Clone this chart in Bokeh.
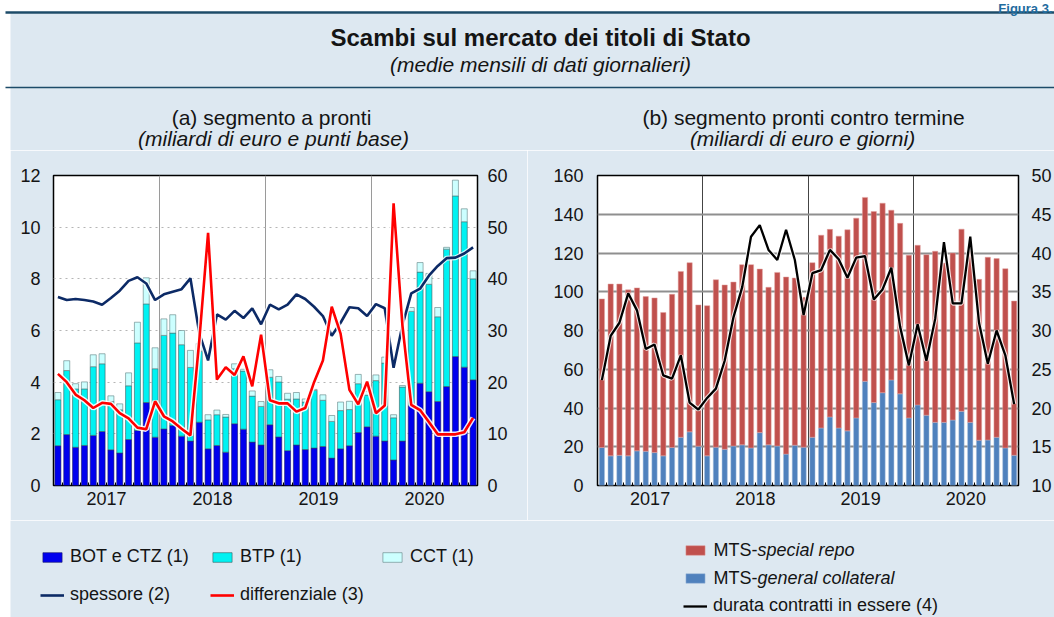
from bokeh.plotting import figure
from bokeh.models import Range1d, LinearAxis, FixedTicker, Legend, LegendItem, Spacer
from bokeh.layouts import column, row
from bokeh.embed import file_html
from bokeh.resources import INLINE
from bokeh.core.properties import value

# ---------------- data ----------------
years = ["2017", "2018", "2019", "2020"]

# panel (a): billions of euro (left axis)
bot_ctz = [1.54, 1.97, 1.48, 1.55, 1.94, 2.09, 1.38, 1.26, 1.78, 2.13, 3.21, 1.87,
           2.19, 2.32, 1.91, 1.72, 2.45, 1.42, 1.55, 1.29, 2.39, 2.18, 1.68, 1.57,
           2.35, 1.88, 1.35, 1.57, 1.39, 1.45, 1.51, 1.06, 1.42, 1.54, 2.05, 2.27,
           1.91, 1.72, 0.99, 1.72, 3.10, 3.96, 3.63, 3.25, 3.83, 4.99, 4.58, 4.09]
btp = [1.78, 2.48, 2.26, 2.19, 2.66, 2.62, 1.87, 1.67, 2.08, 3.39, 3.82, 2.65,
       3.62, 3.58, 3.54, 2.85, 2.75, 1.12, 1.19, 1.36, 2.13, 2.25, 1.78, 1.49,
       1.84, 2.13, 1.99, 1.78, 1.84, 2.23, 1.79, 1.42, 1.48, 1.40, 1.89, 1.23,
       2.15, 3.02, 1.63, 2.09, 3.64, 4.30, 4.16, 3.28, 5.32, 6.22, 5.63, 3.91]
cct = [0.28, 0.38, 0.20, 0.27, 0.46, 0.39, 0.22, 0.23, 0.50, 0.80, 1.01, 0.81,
       0.64, 0.71, 0.55, 0.66, 0.30, 0.20, 0.18, 0.10, 0.19, 0.07, 0.20, 0.19,
       0.29, 0.21, 0.23, 0.25, 0.12, 0.04, 0.21, 0.23, 0.33, 0.32, 0.36, 0.15,
       0.22, 0.23, 0.12, 0.06, 0.15, 0.37, 0.42, 0.36, 0.07, 0.61, 0.50, 0.31]
# right axis (0-60)
spessore = [36.5, 35.9, 36.1, 35.9, 35.6, 35.0, 36.3, 37.7, 39.6, 40.3, 39.1, 35.9,
            37.0, 37.5, 38.0, 40.1, 29.5, 24.2, 33.1, 32.1, 33.8, 32.4, 34.3, 31.2,
            35.0, 34.1, 35.0, 37.0, 36.1, 34.6, 32.8, 29.0, 31.5, 34.5, 34.3, 32.8,
            35.1, 34.3, 22.8, 31.0, 37.2, 38.1, 40.6, 42.5, 44.0, 44.1, 44.9, 46.1]
differenziale = [21.6, 20.0, 17.6, 16.5, 15.0, 16.0, 15.8, 14.0, 13.0, 11.2, 10.9, 16.3,
                 13.4, 12.4, 11.0, 9.7, 28.0, 48.9, 20.5, 22.9, 21.4, 25.0, 19.2, 29.2,
                 16.5, 15.9, 15.9, 14.3, 15.0, 20.0, 24.2, 34.6, 29.4, 18.5, 15.7, 20.1,
                 14.0, 15.5, 54.6, 31.0, 15.6, 14.6, 12.3, 9.9, 9.9, 9.9, 10.3, 13.1]

# panel (b): billions of euro (left), days (right)
general_collateral = [19.6, 15.3, 15.6, 15.3, 17.9, 17.7, 17.0, 15.3, 19.6, 24.9, 27.7, 20.3,
                      15.3, 19.8, 18.7, 20.4, 21.0, 19.4, 27.3, 21.0, 20.4, 16.2, 20.8, 19.8,
                      24.9, 29.7, 35.4, 29.7, 28.2, 34.9, 53.8, 42.8, 47.9, 54.5, 47.3, 34.9,
                      41.6, 36.3, 32.6, 32.6, 33.8, 38.3, 32.6, 23.4, 23.5, 24.9, 19.4, 15.6]
repo_total = [96.3, 104.0, 104.0, 101.0, 102.0, 97.5, 96.8, 89.3, 98.7, 110.5, 115.0, 93.2,
              92.8, 106.2, 103.5, 105.0, 114.0, 114.0, 111.7, 102.3, 110.0, 107.6, 107.1, 97.1,
              115.0, 129.2, 132.2, 128.7, 132.0, 138.0, 148.7, 141.4, 145.7, 142.1, 135.3, 118.9,
              124.0, 119.1, 120.9, 114.9, 120.0, 132.3, 121.0, 106.4, 117.8, 117.1, 111.9, 95.2]
durata = [23.6, 29.3, 31.0, 34.8, 32.6, 27.6, 28.2, 24.2, 23.8, 26.8, 20.7, 19.8,
          21.3, 22.5, 26.1, 31.7, 35.6, 42.1, 43.6, 40.4, 39.1, 43.0, 39.1, 32.0,
          37.4, 37.8, 40.4, 39.2, 36.8, 39.4, 39.6, 34.0, 35.3, 38.1, 30.5, 25.5,
          30.8, 26.1, 31.5, 41.4, 33.5, 33.5, 42.1, 31.0, 25.7, 30.0, 26.8, 20.5]

ticks_a_left = [0, 2, 4, 6, 8, 10, 12]
ticks_a_right = [0, 10, 20, 30, 40, 50, 60]
ticks_b_left = [0, 20, 40, 60, 80, 100, 120, 140, 160]
ticks_b_right = [10, 15, 20, 25, 30, 35, 40, 45, 50]

# ---------------- styling ----------------
BG = "#dde8f1"
RULE = "#1c4b69"
FONT = "Liberation Sans"
TXT = "#141414"
W, H = 1054, 617
n = len(bot_ctz)
xs = [i + 0.5 for i in range(n)]
year_ticks = [6 + 12 * k for k in range(len(years))]
year_bounds = [12 * k for k in range(1, len(years))]

bot_top = [a + b for a, b in zip(bot_ctz, btp)]
cct_top = [a + b for a, b in zip(bot_top, cct)]
NAN = [float("nan")]


def style_xaxis(p):
    ax = p.xaxis[0]
    ax.ticker = FixedTicker(ticks=year_ticks, minor_ticks=list(range(0, n + 1)))
    ax.major_label_overrides = {t: y for t, y in zip(year_ticks, years)}
    ax.major_tick_in = 0
    ax.major_tick_out = 0
    ax.minor_tick_in = 3
    ax.minor_tick_out = 0
    ax.minor_tick_line_color = "black"
    ax.axis_line_color = None
    ax.major_label_standoff = 6
    ax.major_label_text_font = FONT
    ax.major_label_text_font_size = "18px"
    ax.major_label_text_color = TXT


def style_yaxis(ax, ticks, standoff):
    ax.ticker = FixedTicker(ticks=ticks)
    ax.major_tick_in = 0
    ax.major_tick_out = 0
    ax.minor_tick_line_color = None
    ax.axis_line_color = None
    ax.major_label_standoff = standoff
    ax.major_label_text_font = FONT
    ax.major_label_text_font_size = "18px"
    ax.major_label_text_color = TXT


def canvas(width, height):
    c = figure(width=width, height=height, x_range=Range1d(0, width), y_range=Range1d(height, 0),
               output_backend="svg", toolbar_location=None, min_border=0,
               x_axis_location=None, y_axis_location=None, outline_line_color=None,
               background_fill_color="white", border_fill_color="white")
    c.grid.visible = False
    return c


def put_text(c, x, y, s, size, style="normal", color=TXT, align="center", baseline="middle"):
    c.text(x=[x], y=[y], text=[s], text_font=value(FONT), text_font_size=size,
           text_font_style=style, text_color=color, text_align=align, text_baseline=baseline)


# ---------------- header (titles) ----------------
HH = 150
hdr = canvas(W, HH)
hdr.quad(left=[10], right=[W], top=[13], bottom=[HH], fill_color=BG, line_color=None)
hdr.segment(x0=[5], x1=[W], y0=[12], y1=[12], line_color=RULE, line_width=2.5)
hdr.segment(x0=[5], x1=[W], y0=[87], y1=[87], line_color=RULE, line_width=1.5)
put_text(hdr, 1052, 8, "Figura 3.", "13px", "bold", "#1f6ca0", "right", "alphabetic")
put_text(hdr, 540, 37, "Scambi sul mercato dei titoli di Stato", "24px", "bold")
put_text(hdr, 540, 64, "(medie mensili di dati giornalieri)", "21px", "italic")
put_text(hdr, 271, 117, "(a) segmento a pronti", "21px")
put_text(hdr, 273, 138, "(miliardi di euro e punti base)", "21px", "italic")
put_text(hdr, 803, 117, "(b) segmento pronti contro termine", "21px")
put_text(hdr, 802, 138, "(miliardi di euro e giorni)", "21px", "italic")

# ---------------- panel (a) ----------------
PH = 370
pa = figure(width=517, height=PH, x_range=Range1d(0, n), y_range=Range1d(0, 12),
            output_backend="svg", toolbar_location=None,
            min_border_left=43, min_border_right=50, min_border_top=25, min_border_bottom=35,
            background_fill_color="white", border_fill_color=BG,
            outline_line_color="black", outline_line_width=1.5)
pa.extra_y_ranges = {"right": Range1d(0, 60)}
pa.add_layout(LinearAxis(y_range_name="right"), "right")
style_xaxis(pa)
style_yaxis(pa.yaxis[0], ticks_a_left, 13)
style_yaxis(pa.yaxis[1], ticks_a_right, 10)
pa.ygrid.grid_line_color = "#b5b5b5"
pa.ygrid.grid_line_dash = "dotted"
pa.ygrid.grid_line_width = 1
pa.xgrid.ticker = FixedTicker(ticks=year_bounds)
pa.xgrid.grid_line_color = "#9a9a9a"
pa.xgrid.grid_line_width = 1

BOT_STYLE = dict(fill_color="#0000ee", line_color="#1a1a66", line_width=0.6)
BTP_STYLE = dict(fill_color="#00f2f2", line_color="#3c5a5e", line_width=0.6)
CCT_STYLE = dict(fill_color="#ccffff", line_color="#5f7f82", line_width=0.6)
SP_STYLE = dict(line_color="#0c2a66", line_width=2.6)
DF_STYLE = dict(line_color="#ff0000", line_width=2.6)
SR_STYLE = dict(fill_color="#c0504d", line_color="#e3a3a1", line_width=0.5)
GC_STYLE = dict(fill_color="#4f81bd", line_color="#a9c0dd", line_width=0.5)
DU_STYLE = dict(line_color="black", line_width=2.3)

pa.vbar(x=xs, width=0.68, bottom=0, top=bot_ctz, **BOT_STYLE)
pa.vbar(x=xs, width=0.68, bottom=bot_ctz, top=bot_top, **BTP_STYLE)
pa.vbar(x=xs, width=0.68, bottom=bot_top, top=cct_top, **CCT_STYLE)
pa.line(xs, spessore, y_range_name="right", line_color="white", line_width=5, line_alpha=0.8)
pa.line(xs, spessore, y_range_name="right", **SP_STYLE)
pa.line(xs, differenziale, y_range_name="right", line_color="white", line_width=5.5, line_alpha=0.9)
pa.line(xs, differenziale, y_range_name="right", **DF_STYLE)

# ---------------- panel (b) ----------------
pb = figure(width=527, height=PH, x_range=Range1d(0, n), y_range=Range1d(0, 160),
            output_backend="svg", toolbar_location=None,
            min_border_left=70, min_border_right=34, min_border_top=25, min_border_bottom=35,
            background_fill_color="white", border_fill_color=BG,
            outline_line_color="black", outline_line_width=1.5)
pb.extra_y_ranges = {"right": Range1d(10, 50)}
pb.add_layout(LinearAxis(y_range_name="right"), "right")
style_xaxis(pb)
style_yaxis(pb.yaxis[0], ticks_b_left, 14)
style_yaxis(pb.yaxis[1], ticks_b_right, 13)
pb.ygrid.grid_line_color = "#8f8f8f"
pb.ygrid.grid_line_width = 1.8
pb.xgrid.ticker = FixedTicker(ticks=year_bounds)
pb.xgrid.grid_line_color = "#444444"
pb.xgrid.grid_line_width = 1

pb.vbar(x=xs, width=0.6, bottom=0, top=general_collateral, **GC_STYLE)
pb.vbar(x=xs, width=0.6, bottom=general_collateral, top=repo_total, **SR_STYLE)
pb.line(xs, durata, y_range_name="right", line_color="white", line_width=4.5, line_alpha=0.8)
pb.line(xs, durata, y_range_name="right", **DU_STYLE)

# ---------------- footer (legends) ----------------
FH = H - HH - PH
ftr = canvas(W, FH)
ftr.quad(left=[10], right=[W], top=[0], bottom=[FH], fill_color=BG, line_color=None)
# legend-only proxy glyphs (NaN data: nothing is drawn in the canvas)
k_bot = ftr.vbar(x=NAN, top=NAN, width=1, **BOT_STYLE)
k_btp = ftr.vbar(x=NAN, top=NAN, width=1, **BTP_STYLE)
k_cct = ftr.vbar(x=NAN, top=NAN, width=1, **CCT_STYLE)
k_sp = ftr.line(x=NAN, y=NAN, **SP_STYLE)
k_df = ftr.line(x=NAN, y=NAN, **DF_STYLE)
k_sr = ftr.vbar(x=NAN, top=NAN, width=1, **SR_STYLE)
k_gc = ftr.vbar(x=NAN, top=NAN, width=1, **GC_STYLE)
k_du = ftr.line(x=NAN, y=NAN, **DU_STYLE)

LEG = dict(label_text_font=FONT, label_text_font_size="18px", label_text_color=TXT,
           glyph_width=24, glyph_height=12, label_standoff=6, label_height=21,
           padding=0, margin=0, background_fill_alpha=0, border_line_color=None)
leg_a1 = Legend(items=[LegendItem(label="BOT e CTZ (1)", renderers=[k_bot]),
                       LegendItem(label="BTP (1)", renderers=[k_btp]),
                       LegendItem(label="CCT (1)", renderers=[k_cct])],
                orientation="horizontal", location=(40, 50), label_width=122, spacing=18, **LEG)
leg_a2 = Legend(items=[LegendItem(label="spessore (2)", renderers=[k_sp]),
                       LegendItem(label="differenziale (3)", renderers=[k_df])],
                orientation="horizontal", location=(40, 12), label_width=122, spacing=18, **LEG)
# the first two labels of panel (b) mix upright and italic text: swatches come from the
# legend, the mixed-style labels are written next to them
leg_b = Legend(items=[LegendItem(label="", renderers=[k_sr]),
                      LegendItem(label="", renderers=[k_gc]),
                      LegendItem(label="durata contratti in essere (4)", renderers=[k_du])],
               orientation="vertical", location=(683, 1), spacing=7, **LEG)
for lg in (leg_a1, leg_a2, leg_b):
    ftr.add_layout(lg)

put_text(ftr, 713, 29, "MTS-", "18px", align="left")
put_text(ftr, 757, 29, "special repo", "18px", "italic", align="left")
put_text(ftr, 713, 57, "MTS-", "18px", align="left")
put_text(ftr, 757, 57, "general collateral", "18px", "italic", align="left")

layout = column(hdr, row(Spacer(width=10, height=PH), pa, pb), ftr)
open("out.html", "w").write(file_html(layout, INLINE, title="Scambi sul mercato dei titoli di Stato"))
